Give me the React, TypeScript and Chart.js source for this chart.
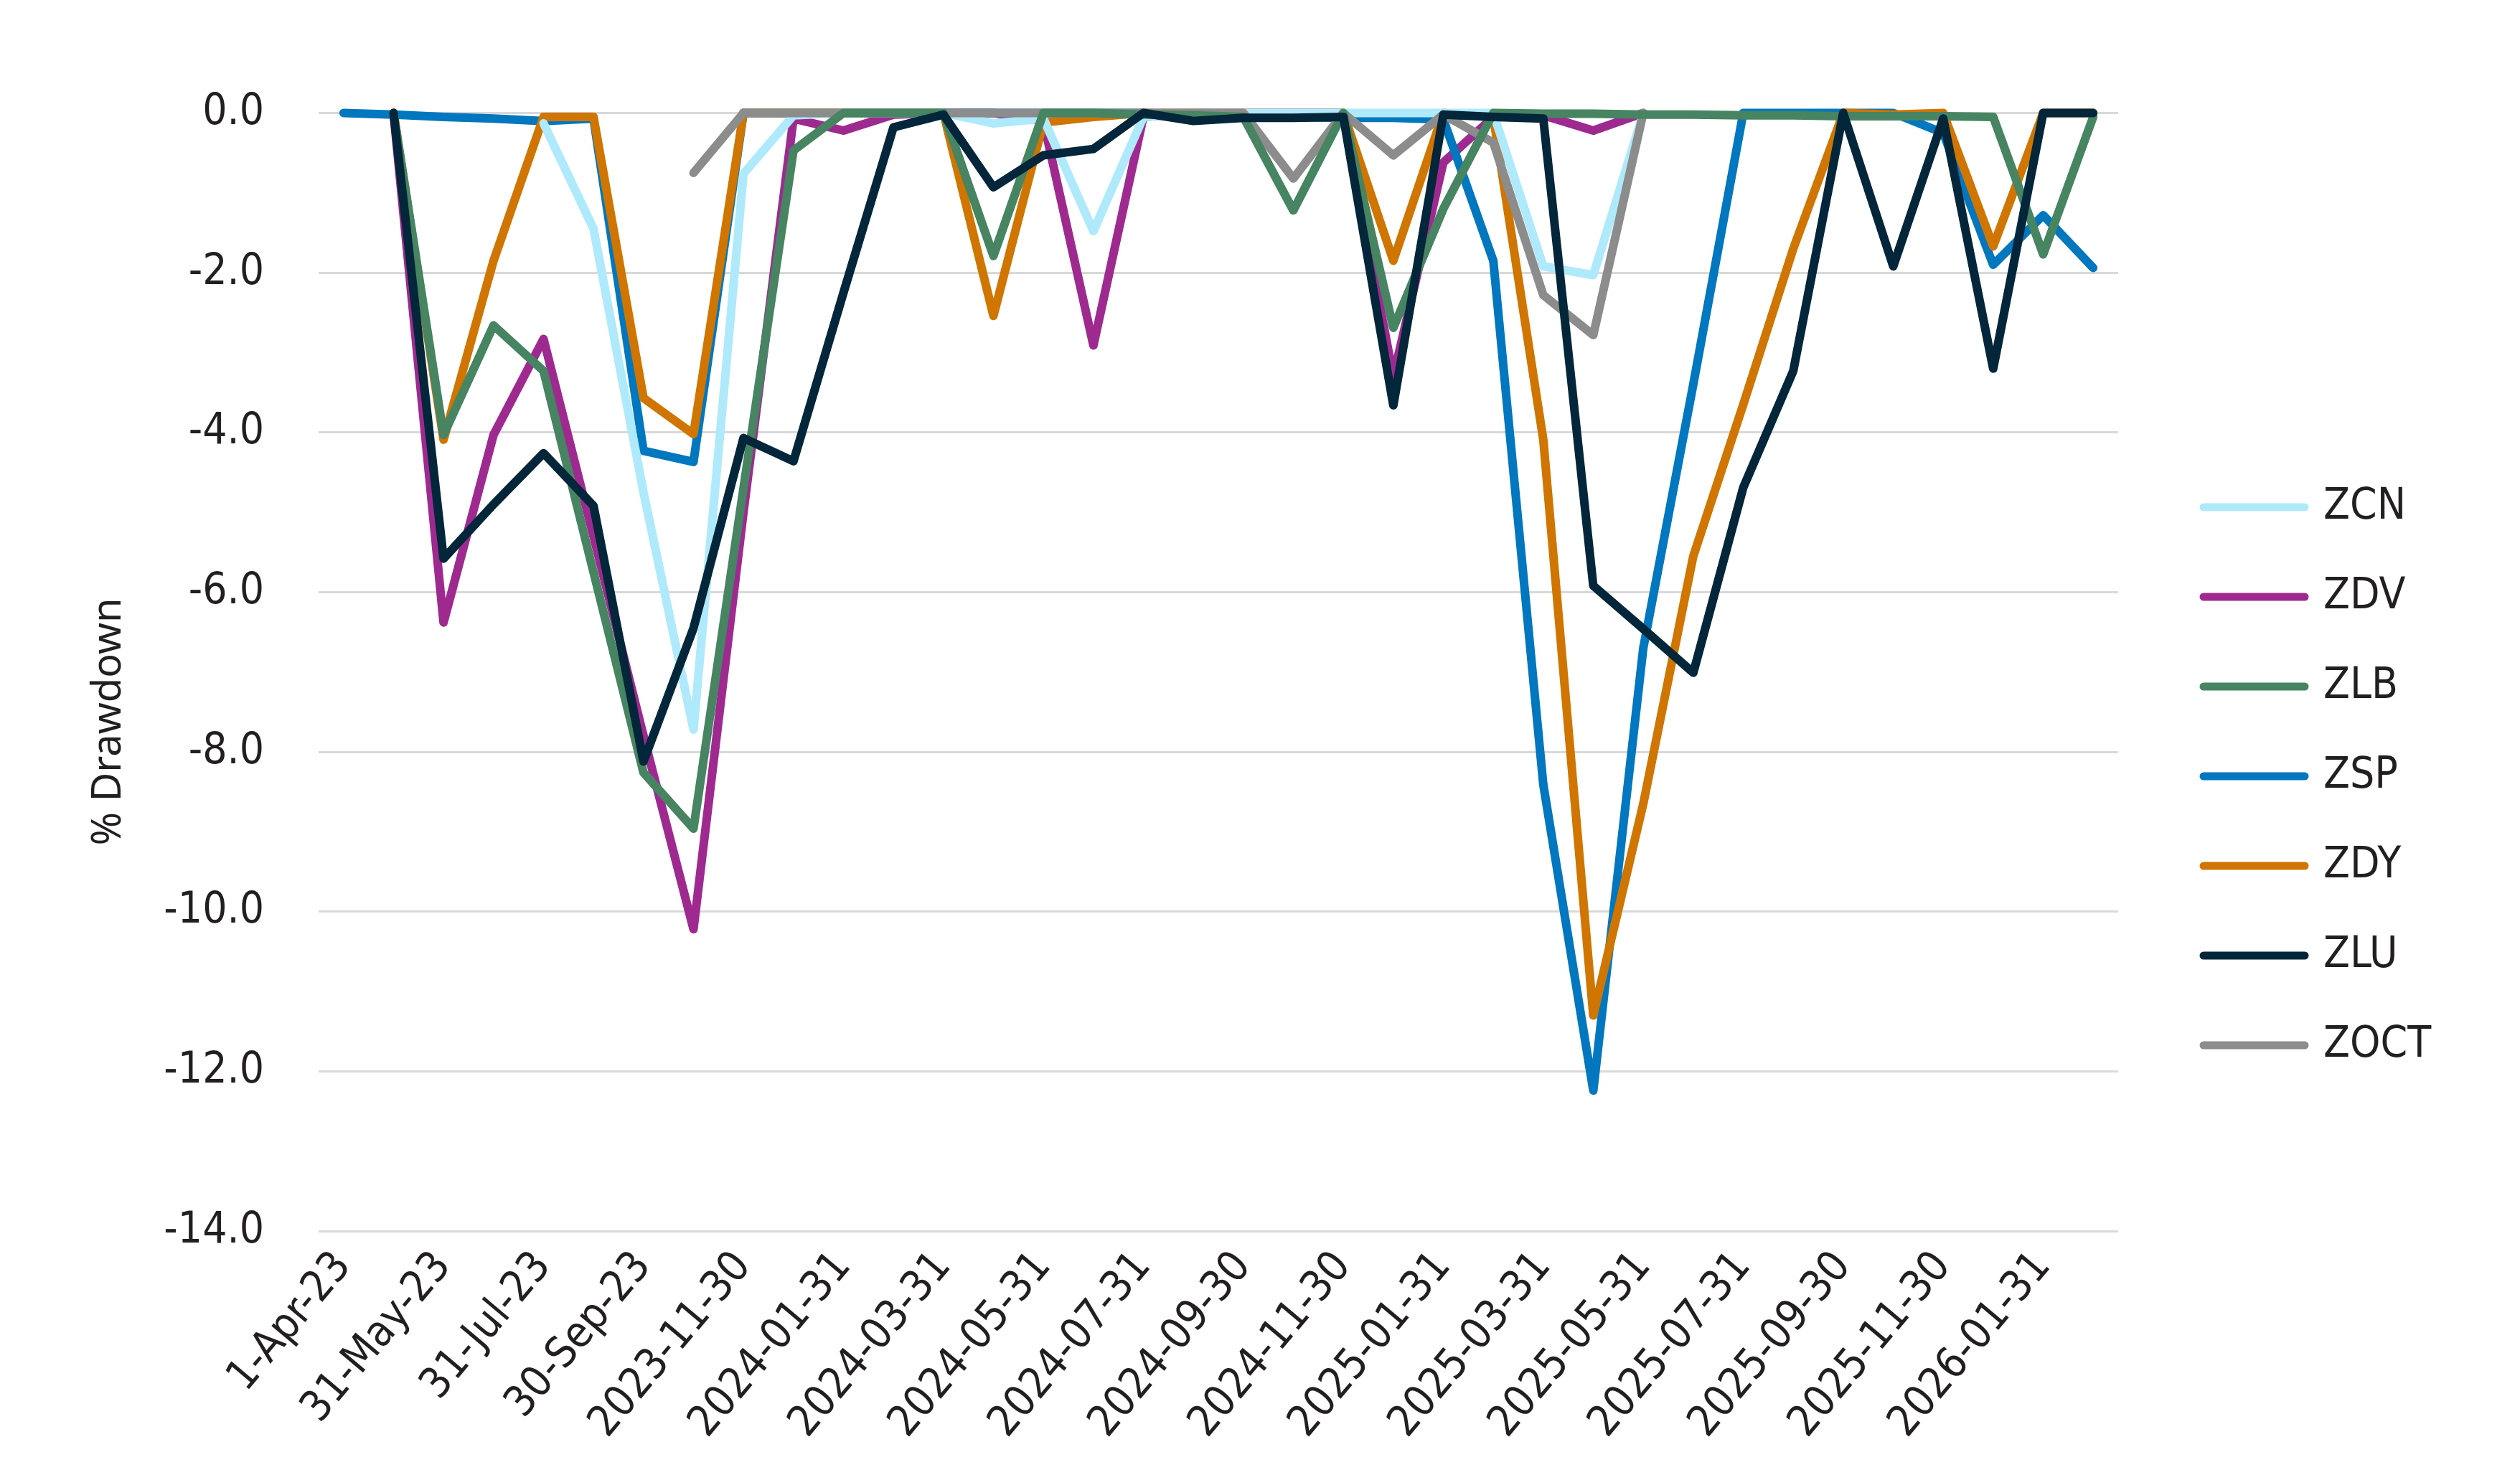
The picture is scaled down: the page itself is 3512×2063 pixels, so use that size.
import React, { useEffect, useRef } from 'react';
import { Chart, registerables } from 'chart.js';

Chart.register(...registerables);

const categories = [
  '1-Apr-23', '30-Apr-23', '31-May-23', '30-Jun-23', '31-Jul-23', '31-Aug-23', '30-Sep-23', '31-Oct-23',
  '2023-11-30', '2023-12-31', '2024-01-31', '2024-02-29', '2024-03-31', '2024-04-30', '2024-05-31', '2024-06-30',
  '2024-07-31', '2024-08-31', '2024-09-30', '2024-10-31', '2024-11-30', '2024-12-31', '2025-01-31', '2025-02-28',
  '2025-03-31', '2025-04-30', '2025-05-31', '2025-06-30', '2025-07-31', '2025-08-31', '2025-09-30', '2025-10-31',
  '2025-11-30', '2025-12-31', '2026-01-31', '2026-02-28',
];

const ZCN = [null, null, null, null, -0.13, -1.45, -4.75, -7.72, -0.76, -0.03, 0, 0, 0, -0.13, -0.07, -1.48, -0.05, 0, 0, 0, 0, 0, 0, 0, -1.92, -2.03, 0, null, null, null, null, null, null, null, null, null];
const ZDV = [null, 0, -6.38, -4.03, -2.83, -5.3, -7.8, -10.22, -5.0, -0.07, -0.22, -0.02, 0, 0, -0.1, -2.91, -0.05, 0, 0, 0, 0, -3.3, -0.62, -0.05, -0.03, -0.22, 0, null, null, null, null, null, null, null, null, null];
const ZLB = [null, 0, -4.03, -2.66, -3.23, -5.75, -8.26, -8.96, -4.7, -0.47, 0, 0, 0, -1.79, 0, 0, -0.02, -0.03, -0.05, -1.22, 0, -2.69, -1.2, 0, -0.01, -0.01, -0.02, -0.02, -0.03, -0.03, -0.04, -0.04, -0.04, -0.05, -1.77, -0.05];
const ZSP = [0, -0.02, -0.05, -0.07, -0.1, -0.07, -4.23, -4.37, 0, 0, 0, 0, 0, 0, 0, 0, 0, -0.03, -0.04, -0.05, -0.06, -0.06, -0.08, -1.85, -8.41, -12.24, -6.7, -3.4, 0, 0, 0, 0, -0.25, -1.9, -1.28, -1.94];
const ZDY = [null, 0, -4.09, -1.85, -0.05, -0.05, -3.57, -4.02, 0, 0, 0, 0, 0, -2.54, -0.12, -0.05, 0, 0, 0, 0, 0, -1.85, 0, -0.05, -4.09, -11.3, -8.65, -5.55, -3.65, -1.7, 0, -0.02, 0, -1.67, 0, 0];
const ZLU = [null, 0, -5.58, -4.9, -4.26, -4.92, -8.12, -6.45, -4.07, -4.36, -2.25, -0.18, -0.02, -0.93, -0.53, -0.45, 0, -0.1, -0.06, -0.06, -0.05, -3.66, -0.02, -0.05, -0.07, -5.92, -6.46, -7.01, -4.69, -3.23, 0, -1.92, -0.07, -3.2, 0, 0];
const ZOCT = [null, null, null, null, null, null, null, -0.75, 0, 0, 0, 0, 0, 0, 0, 0, 0, 0, 0, -0.82, 0, -0.53, -0.02, -0.37, -2.28, -2.78, 0, null, null, null, null, null, null, null, null, null];

const seriesNames = ['ZCN', 'ZDV', 'ZLB', 'ZSP', 'ZDY', 'ZLU', 'ZOCT'];
const seriesValues = [ZCN, ZDV, ZLB, ZSP, ZDY, ZLU, ZOCT];
const seriesColors = ['#AEEAFB', '#9E2A90', '#468462', '#0077BF', '#CF7500', '#03263A', '#8C8C8C'];
// drawing layer (higher = drawn earlier / underneath)
const seriesLayer = [4, 7, 2, 6, 5, 1, 3];

const yMin = -14;
const yMax = 0;
const yStep = 2;
const yTitle = '% Drawdown';

const W = 3512;
const H = 2063;
const TEXT = '#231F20';
const NARROW = '"Liberation Sans Narrow", "DejaVu Sans Condensed", "Roboto", sans-serif';

const titlePlugin = {
  id: 'yTitleCustom',
  afterDraw(chart: any) {
    const ctx = chart.ctx;
    ctx.save();
    ctx.translate(152, 1006);
    ctx.rotate(-Math.PI / 2);
    ctx.font = '56px "Noto Sans", "Open Sans", sans-serif';
    ctx.fillStyle = TEXT;
    ctx.textAlign = 'center';
    ctx.textBaseline = 'middle';
    ctx.fillText(yTitle, 0, 0);
    ctx.restore();
  },
};

const legendPlugin = {
  id: 'legendCustom',
  afterDraw(chart: any) {
    const ctx = chart.ctx;
    ctx.save();
    chart.data.datasets.forEach((ds: any, i: number) => {
      const y = 707 + i * 125;
      ctx.strokeStyle = ds.borderColor;
      ctx.lineWidth = 11;
      ctx.lineCap = 'round';
      ctx.beginPath();
      ctx.moveTo(3071, y);
      ctx.lineTo(3212, y);
      ctx.stroke();
      ctx.font = '60px ' + NARROW;
      ctx.fillStyle = TEXT;
      ctx.textAlign = 'left';
      ctx.textBaseline = 'middle';
      ctx.fillText(ds.label, 3238, y);
    });
    ctx.restore();
  },
};

export default function App() {
  const ref = useRef<HTMLCanvasElement>(null);

  useEffect(() => {
    if (!ref.current) return;
    const datasets = seriesNames.map((name, i) => ({
      label: name,
      data: seriesValues[i],
      borderColor: seriesColors[i],
      backgroundColor: seriesColors[i],
      borderWidth: 12,
      pointRadius: 0,
      pointHoverRadius: 0,
      tension: 0,
      fill: false,
      borderCapStyle: 'round',
      borderJoinStyle: 'round',
      order: seriesLayer[i],
      clip: false,
    }));

    const chart = new Chart(ref.current, {
      type: 'line',
      data: { labels: categories, datasets: datasets as any },
      options: {
        animation: false,
        responsive: false,
        devicePixelRatio: 1,
        events: [],
        layout: { padding: { top: 157.5, left: 0, right: W - 2952, bottom: 0 } },
        plugins: {
          legend: { display: false },
          tooltip: { enabled: false },
          title: { display: false },
        },
        scales: {
          x: {
            type: 'category',
            offset: true,
            grid: { display: false, drawTicks: false },
            border: { display: false },
            ticks: {
              autoSkip: false,
              minRotation: 50,
              maxRotation: 50,
              padding: 16,
              color: TEXT,
              font: { family: NARROW, size: 60 },
              callback: (_v: any, i: number) => (i % 2 === 0 ? categories[i] : ''),
            },
            afterFit: (s: any) => {
              s.height = H - 1716;
            },
          },
          y: {
            min: yMin,
            max: yMax,
            grid: { color: '#D9D9D9', lineWidth: 3, drawTicks: false },
            border: { display: false },
            ticks: {
              stepSize: yStep,
              padding: 76,
              color: TEXT,
              font: { family: NARROW, size: 60 },
              callback: (v: any) => Number(v).toFixed(1),
            },
            afterFit: (s: any) => {
              s.width = 444;
            },
          },
        },
      },
      plugins: [titlePlugin, legendPlugin],
    });
    return () => chart.destroy();
  }, []);

  return (
    <div style={{ position: 'absolute', left: 0, top: 0, width: W, height: H, background: '#fff' }}>
      <canvas ref={ref} width={W} height={H} style={{ display: 'block' }} />
    </div>
  );
}
